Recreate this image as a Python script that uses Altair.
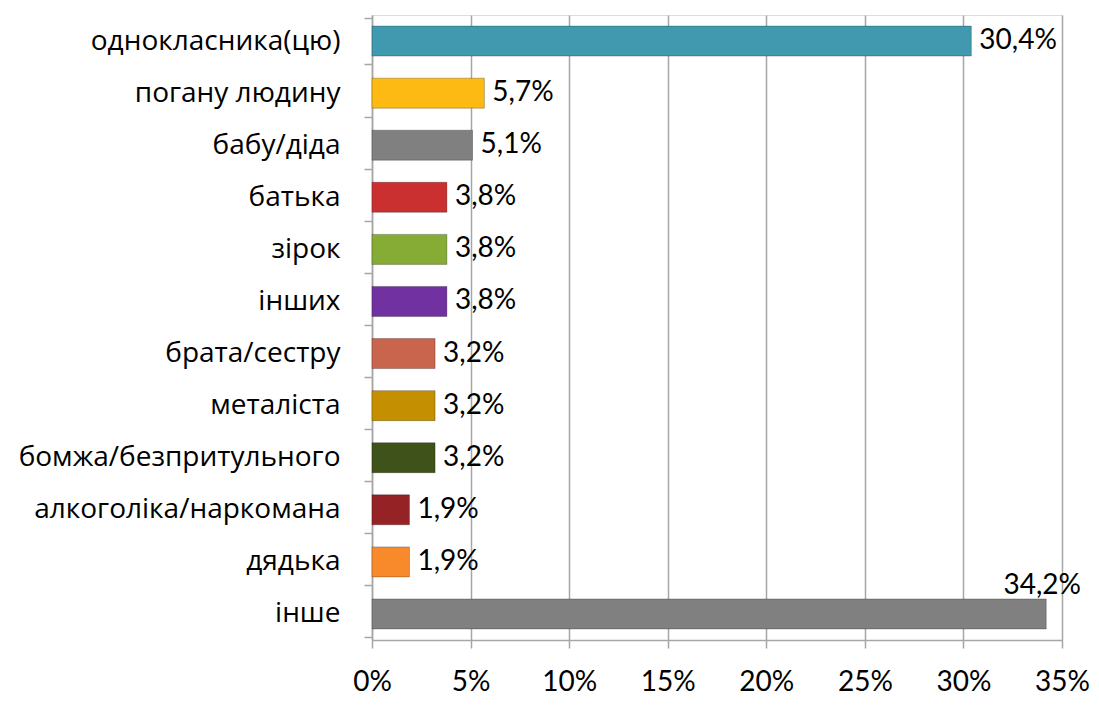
import altair as alt
import pandas as pd

categories = ["однокласника(цю)", "погану людину", "бабу/діда", "батька", "зірок", "інших",
              "брата/сестру", "металіста", "бомжа/безпритульного", "алкоголіка/наркомана",
              "дядька", "інше"]
values = [30.4, 5.7, 5.1, 3.8, 3.8, 3.8, 3.2, 3.2, 3.2, 1.9, 1.9, 34.2]
colors = ["#4199AF", "#FDBA12", "#808080", "#C9302F", "#86AC36", "#7131A1",
          "#C8654C", "#C48F00", "#3F5219", "#952225", "#F98A2C", "#808080"]
x_ticks = [0, 5, 10, 15, 20, 25, 30, 35]

df = pd.DataFrame({"cat": categories, "val": values, "color": colors})

CAT_FONT = "Open Sans"
NUM_FONT = "Lato"

base = alt.Chart(df).encode(
    y=alt.Y("cat:N", sort=categories, title=None,
            axis=alt.Axis(labelFontSize=28, labelFont=CAT_FONT, labelColor="#000000",
                          labelPadding=24, tickBand="extent", tickSize=8,
                          tickColor="#A6A6A6", domainColor="#A6A6A6", domainWidth=1.5,
                          tickWidth=1.5, labelLimit=400)),
)

bars = base.mark_bar(size=30, stroke="#00000040", strokeWidth=1).encode(
    x=alt.X("val:Q", title=None, scale=alt.Scale(domain=[0, 35], nice=False),
            axis=alt.Axis(values=x_ticks, labelExpr="datum.value + '%'",
                          labelFontSize=28, labelFont=NUM_FONT, labelColor="#000000",
                          labelPadding=20, labelFlush=False, labelOverlap=False,
                          tickSize=8, tickColor="#A6A6A6", tickWidth=1.5,
                          grid=True, gridColor="#A6A6A6", gridWidth=1.5,
                          domainColor="#A6A6A6", domainWidth=1.5)),
    color=alt.Color("color:N", scale=None),
)

lab = base.transform_calculate(
    txt="replace(format(datum.val, '.1f'), '.', ',') + '%'"
).encode(x="val:Q", text="txt:N")

labels = lab.transform_filter(alt.datum.cat != "інше").mark_text(
    align="left", baseline="middle", dx=8, fontSize=28, font=NUM_FONT, color="#000000")
label_last = lab.transform_filter(alt.datum.cat == "інше").mark_text(
    align="center", baseline="bottom", dy=-14, dx=-4, fontSize=28, font=NUM_FONT, color="#000000")

chart = (bars + labels + label_last).properties(
    width=690, height=625,
    autosize=alt.AutoSizeParams(type="none"),
    padding={"left": 364, "top": 7, "right": 29, "bottom": 58},
).configure_view(stroke=None).configure(background="white")

chart.save("out.html", embed_options={"renderer": "svg", "actions": False})
